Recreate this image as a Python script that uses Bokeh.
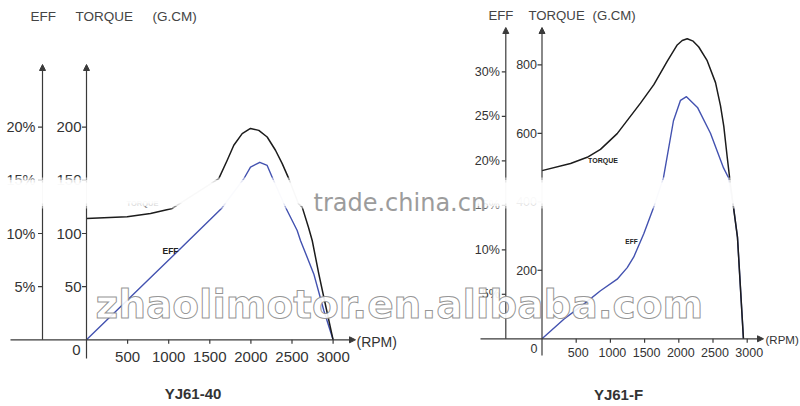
import math
from bokeh.plotting import figure
from bokeh.models import Range1d, Arrow, NormalHead, BoxAnnotation
from bokeh.embed import file_html
from bokeh.resources import INLINE
from bokeh.core.properties import value

# ---------------- data ----------------
rpm_ticks = [500, 1000, 1500, 2000, 2500, 3000]
rpm_tick_labels = ["500", "1000", "1500", "2000", "2500", "3000"]

left_torque_ticks = [50, 100, 150, 200]
left_eff_ticks = [5, 10, 15, 20]
right_torque_ticks = [200, 400, 600, 800]
right_eff_ticks = [5, 10, 15, 20, 25, 30]

# YJ61-40
left_torque_rpm = [0, 495, 779, 1043, 1609, 1712, 1792, 1894, 1995, 2096, 2198, 2299,
                   2381, 2461, 2579, 2624, 2701, 2746, 2826, 2887, 3000]
left_torque_gcm = [114.2, 115.7, 118.9, 123.6, 151.6, 168.9, 183.0, 194.0, 198.8, 197.0,
                   190.8, 178.3, 165.7, 151.6, 128.0, 124.8, 105.7, 93.4, 62.0, 40.0, 0]
left_eff_rpm = [0, 1000, 1642, 1914, 1995, 2108, 2198, 2259, 2421, 2563, 2603, 2765, 2887, 3000]
left_eff_pct = [0, 7.5, 12.35, 15.15, 16.24, 16.7, 16.4, 15.3, 12.47, 10.28, 9.35, 6.2, 2.76, 0]

# YJ61-F
right_torque_rpm = [0, 417, 661, 855, 1099, 1440, 1635, 1830, 1977, 2050, 2123, 2210, 2292,
                    2415, 2537, 2610, 2658, 2708, 2746, 2800, 2858, 2945]
right_torque_gcm = [491, 512, 530, 553, 599, 688, 742, 810, 858, 871, 876, 869, 852,
                    812, 748, 680, 620, 530, 465, 383, 296, 0]
right_eff_rpm = [0, 319, 611, 855, 1099, 1246, 1342, 1488, 1634, 1776, 1922, 2025, 2112,
                 2273, 2463, 2654, 2727, 2800, 2858, 2945]
right_eff_pct = [0, 2.2, 3.9, 5.4, 6.7, 8.0, 9.2, 11.8, 14.8, 18.1, 24.5, 26.8, 27.2,
                 26.0, 23.1, 19.2, 18.1, 14.8, 11.4, 0]

# ---------------- layout calibration (window pixels) ----------------
W, H = 800, 406
WX0, WX1, WY0, WY1 = 0, 800, 0, 406
L_X0, L_XS = 86.0, 0.0822      # left panel: x of 0 rpm, px per rpm
L_Y0, L_YS = 339.3, 1.063      # left panel: y of 0 g.cm, px per g.cm
L_ES = 10.63                   # left panel: px per %
R_X0, R_XS = 541.5, 0.0684
R_Y0, R_YS = 338.3, 0.3425
R_ES = 8.9


def lx(px): return (px - L_X0) / L_XS
def ly(py): return (L_Y0 - py) / L_YS
def le(py): return (L_Y0 - py) / L_ES
def rx(px): return (px - R_X0) / R_XS
def ry(py): return (R_Y0 - py) / R_YS
def re(py): return (R_Y0 - py) / R_ES


p = figure(width=W, height=H, output_backend="svg", toolbar_location=None,
           x_axis_type=None, y_axis_type=None, title=None,
           x_range=Range1d(lx(WX0), lx(WX1)), y_range=Range1d(ly(WY1), ly(WY0)),
           min_border=0, outline_line_color=None, background_fill_color="white")
p.grid.visible = False
p.extra_x_ranges = {"r": Range1d(rx(WX0), rx(WX1))}
p.extra_y_ranges = {"leff": Range1d(le(WY1), le(WY0)),
                    "rt": Range1d(ry(WY1), ry(WY0)),
                    "reff": Range1d(re(WY1), re(WY0))}

FONT = value("Liberation Sans")
AX = "#3a3a3a"
TXT = "#333333"
BLACK = "#1c1c1c"
BLUE = "#4352b0"


def arrow(x0, y0, x1, y1, xr="default", yr="default"):
    p.add_layout(Arrow(x_start=x0, y_start=y0, x_end=x1, y_end=y1,
                       x_range_name=xr, y_range_name=yr,
                       line_color=AX, line_width=1.2,
                       end=NormalHead(size=6, fill_color=AX, line_color=AX, line_width=1)))


def txt(x, y, s, size, align="left", baseline="middle", bold=False, color=TXT,
        xr="default", yr="default", x_offset=0, level=None, font=FONT):
    r = p.text(x=x, y=y, text=s, x_range_name=xr, y_range_name=yr,
               text_font=font, text_font_size=f"{size}px",
               text_font_style="bold" if bold else "normal",
               text_color=color, text_align=align, text_baseline=baseline,
               x_offset=x_offset)
    if level:
        r.level = level
    return r


# ---------------- curves ----------------
p.line(left_eff_rpm, left_eff_pct, y_range_name="leff", line_color=BLUE, line_width=1.4,
       line_join="round")
p.line(left_torque_rpm, left_torque_gcm, line_color=BLACK, line_width=1.5, line_join="round")
p.line(right_eff_rpm, right_eff_pct, x_range_name="r", y_range_name="reff",
       line_color=BLUE, line_width=1.4, line_join="round")
p.line(right_torque_rpm, right_torque_gcm, x_range_name="r", y_range_name="rt",
       line_color=BLACK, line_width=1.5, line_join="round")

# ---------------- left panel axes ----------------
arrow(lx(10), 0, lx(355), 0)
arrow(0, ly(358), 0, ly(64))
arrow(lx(42), 0, lx(42), le(64), yr="leff")
p.ray(x=[0] * len(left_torque_ticks), y=left_torque_ticks, length=4.5, length_units="screen",
      angle=math.pi, line_color=AX, line_width=1.2)
p.ray(x=[lx(42)] * len(left_eff_ticks), y=left_eff_ticks, y_range_name="leff", length=4.5,
      length_units="screen", angle=math.pi, line_color=AX, line_width=1.2)
p.ray(x=rpm_ticks, y=[0] * len(rpm_ticks), length=4, length_units="screen",
      angle=-math.pi / 2, line_color=AX, line_width=1.2)
txt([0] * len(left_torque_ticks), left_torque_ticks, [str(t) for t in left_torque_ticks], 15,
    align="right", x_offset=-5)
txt([lx(42)] * len(left_eff_ticks), left_eff_ticks, [f"{t}%" for t in left_eff_ticks], 14.5,
    align="right", x_offset=-7, yr="leff")
txt(rpm_ticks, [ly(356)] * len(rpm_ticks), rpm_tick_labels, 15, align="center")
txt([lx(80)], [ly(349)], ["0"], 15, align="right")
txt([lx(356)], [ly(341)], ["(RPM)"], 14)
txt([lx(30)], [ly(16)], ["EFF"], 13.5, color="#444")
txt([lx(75)], [ly(16)], ["TORQUE"], 13.5, color="#444")
txt([lx(152)], [ly(16)], ["(G.CM)"], 13.5, color="#444")
txt([lx(192.5)], [ly(393)], ["YJ61-40"], 15, align="center", bold=True)
txt([lx(170)], [ly(250)], ["EFF"], 8.5, align="center", bold=True, color="#222")
txt([lx(142)], [ly(203)], ["TORQUE"], 7.5, align="center", bold=True, color="#222")

# ---------------- right panel axes ----------------
arrow(rx(480), 0, rx(763), 0, xr="r", yr="rt")
arrow(0, ry(355), 0, ry(27), xr="r", yr="rt")
arrow(rx(505.3), 0, rx(505.3), re(27), xr="r", yr="reff")
p.ray(x=[0] * len(right_torque_ticks), y=right_torque_ticks, x_range_name="r", y_range_name="rt",
      length=4.5, length_units="screen", angle=math.pi, line_color=AX, line_width=1.2)
p.ray(x=[rx(505.3)] * len(right_eff_ticks), y=right_eff_ticks, x_range_name="r",
      y_range_name="reff", length=4, length_units="screen", angle=math.pi,
      line_color=AX, line_width=1.2)
p.ray(x=rpm_ticks, y=[0] * len(rpm_ticks), x_range_name="r", y_range_name="rt", length=4,
      length_units="screen", angle=-math.pi / 2, line_color=AX, line_width=1.2)
txt([0] * len(right_torque_ticks), right_torque_ticks, [str(t) for t in right_torque_ticks], 12.5,
    align="right", x_offset=-5, xr="r", yr="rt")
txt([rx(505.3)] * len(right_eff_ticks), right_eff_ticks, [f"{t}%" for t in right_eff_ticks], 12.5,
    align="right", x_offset=-6, xr="r", yr="reff")
txt(rpm_ticks, [ry(351.5)] * len(rpm_ticks), rpm_tick_labels, 12.5, align="center",
    xr="r", yr="rt", x_offset=2)
txt([rx(537)], [ry(347.5)], ["0"], 12.5, align="right", xr="r", yr="rt")
txt([rx(765)], [ry(339)], ["(RPM)"], 11.5, xr="r", yr="rt")
txt([rx(488)], [ry(15)], ["EFF"], 13.2, color="#444", xr="r", yr="rt")
txt([rx(528)], [ry(15)], ["TORQUE"], 13.2, color="#444", xr="r", yr="rt")
txt([rx(592)], [ry(15)], ["(G.CM)"], 13.2, color="#444", xr="r", yr="rt")
txt([rx(618)], [ry(393.5)], ["YJ61-F"], 15, align="center", bold=True, xr="r", yr="rt")
txt([rx(602.5)], [ry(160)], ["TORQUE"], 7, align="center", bold=True, color="#222", xr="r", yr="rt")
txt([rx(631)], [ry(241)], ["EFF"], 6.5, align="center", bold=True, color="#222", xr="r", yr="rt")

# ---------------- scan artefacts: faded band and watermarks ----------------
for top, bot, a in [(177, 208, 0.5), (179.5, 205.5, 0.7), (182, 203, 0.8)]:
    p.add_layout(BoxAnnotation(top=ly(top), bottom=ly(bot), fill_color="white",
                               fill_alpha=a, line_color=None))

txt([lx(313)], [ly(202)], ["trade.china.cn"], 24, baseline="alphabetic", color="#9c9c9c",
    level="overlay", font=value("DejaVu Sans"))

wm = p.text(x=[lx(95)], y=[ly(304)], text=["zhaolimotor.en.alibaba.com"],
            text_font=value("DejaVu Sans"), text_font_size="39px", text_font_style="bold",
            text_color="white", text_alpha=0.92, text_outline_color="#8c8c8c",
            text_baseline="alphabetic", text_align="left")
wm.level = "overlay"

open("out.html", "w").write(file_html(p, INLINE))
